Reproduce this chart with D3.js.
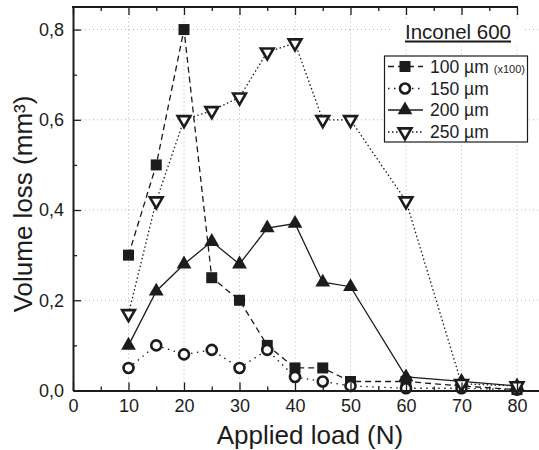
<!DOCTYPE html>
<html>
<head>
<meta charset="utf-8">
<script src="https://cdn.jsdelivr.net/npm/d3@7"></script>
<style>
  body { margin: 0; background: #fff; }
  svg { display: block; font-family: "Liberation Sans", Arial, sans-serif; }
</style>
</head>
<body>
<svg id="chart" width="539" height="450"></svg>
<script>
// data
const loads = [10, 15, 20, 25, 30, 35, 40, 45, 50, 60, 70, 80];
const s100 = [0.30, 0.50, 0.80, 0.25, 0.20, 0.10, 0.05, 0.05, 0.02, 0.02, 0.01, 0.002];
const s150 = [0.05, 0.10, 0.08, 0.09, 0.05, 0.09, 0.03, 0.02, 0.01, 0.005, 0.005, 0.002];
const s200 = [0.10, 0.22, 0.28, 0.33, 0.28, 0.36, 0.37, 0.24, 0.23, 0.03, 0.02, 0.01];
const s250 = [0.17, 0.42, 0.60, 0.62, 0.65, 0.75, 0.77, 0.60, 0.60, 0.42, 0.015, 0.01];
const seriesNames = ["100 µm", "150 µm", "200 µm", "250 µm"];
const xTicks = [0, 10, 20, 30, 40, 50, 60, 70, 80];
const xMinor = [5, 15, 25, 35, 45, 55, 65, 75];
const yTicks = [0, 0.2, 0.4, 0.6, 0.8];
const yMinor = [0.1, 0.3, 0.5, 0.7];

const ink = "#1c1c1c";
const svg = d3.select("#chart");

const x = d3.scaleLinear().domain([0, 84]).range([73, 539.2]);
const y = d3.scaleLinear().domain([0, 0.85]).range([390.5, 7]);
const fmt = d => d3.format(".1f")(d).replace(".", ",");

// grid
const grid = svg.append("g").attr("stroke", "#b5b5b5").attr("stroke-dasharray", "1,3");
grid.selectAll(".gx").data(xTicks.slice(1)).join("line")
  .attr("x1", d => x(d)).attr("x2", d => x(d))
  .attr("y1", y(0)).attr("y2", y(0.85));
grid.selectAll(".gy").data(yTicks.slice(1)).join("line")
  .attr("x1", x(0)).attr("x2", 539)
  .attr("y1", d => y(d)).attr("y2", d => y(d));

// series
const series = [
  { name: seriesNames[0], vals: s100, dash: "6,4", mark: "square" },
  { name: seriesNames[1], vals: s150, dash: "1.5,4.5", mark: "circle" },
  { name: seriesNames[2], vals: s200, dash: null, mark: "up" },
  { name: seriesNames[3], vals: s250, dash: "1.5,2.5", mark: "down" }
];

const line = d3.line().x(d => x(d[0])).y(d => y(d[1]));

function drawMark(g, type) {
  if (type === "square") {
    g.append("rect").attr("x", -5.5).attr("y", -5.5).attr("width", 11).attr("height", 11).attr("fill", ink);
  } else if (type === "circle") {
    g.append("circle").attr("r", 5).attr("fill", "#fff").attr("stroke", ink).attr("stroke-width", 2.6);
  } else if (type === "up") {
    g.append("path").attr("d", d3.symbol(d3.symbolTriangle, 95)()).attr("fill", ink);
  } else {
    g.append("path").attr("d", d3.symbol(d3.symbolTriangle, 70)())
      .attr("transform", "rotate(180)")
      .attr("fill", "#fff").attr("stroke", ink).attr("stroke-width", 2.6);
  }
}

series.forEach(s => {
  const pts = loads.map((l, i) => [l, s.vals[i]]);
  svg.append("path").datum(pts)
    .attr("d", line).attr("fill", "none")
    .attr("stroke", ink).attr("stroke-width", 1.3)
    .attr("stroke-dasharray", s.dash);
});
series.forEach(s => {
  loads.forEach((l, i) => {
    const g = svg.append("g").attr("transform", `translate(${x(l)},${y(s.vals[i])})`);
    drawMark(g, s.mark);
  });
});

// axes
const xAxis = svg.append("g").attr("transform", `translate(0,${y(0)})`)
  .call(d3.axisBottom(x).tickValues(xTicks).tickSize(-8).tickSizeOuter(0).tickPadding(9).tickFormat(d3.format("d")));
xAxis.select(".domain").attr("stroke-width", 2).attr("stroke", ink);
xAxis.selectAll("text").attr("font-size", 18).attr("fill", ink).attr("font-family", null);
xAxis.selectAll(".tick line").attr("stroke", ink).attr("stroke-width", 1.3);

svg.append("g").attr("transform", `translate(0,${y(0)})`)
  .call(d3.axisBottom(x).tickValues(xMinor).tickSize(-4).tickFormat(""))
  .call(g => g.select(".domain").remove())
  .selectAll("line").attr("stroke", ink).attr("stroke-width", 1.3);

const yAxis = svg.append("g").attr("transform", `translate(${x(0)},0)`)
  .call(d3.axisLeft(y).tickValues(yTicks).tickSize(-8).tickSizeOuter(0).tickPadding(9).tickFormat(fmt));
yAxis.select(".domain").attr("stroke-width", 2).attr("stroke", ink);
yAxis.selectAll("text").attr("font-size", 18).attr("fill", ink).attr("font-family", null);
yAxis.selectAll(".tick line").attr("stroke", ink).attr("stroke-width", 1.3);

svg.append("g").attr("transform", `translate(${x(0)},0)`)
  .call(d3.axisLeft(y).tickValues(yMinor).tickSize(-4).tickFormat(""))
  .call(g => g.select(".domain").remove())
  .selectAll("line").attr("stroke", ink).attr("stroke-width", 1.3);

// top frame
const topAxis = svg.append("g").attr("transform", `translate(0,${y(0.85)})`);
topAxis.call(d3.axisTop(x).tickValues(xTicks).tickSize(-8).tickFormat(""))
  .call(g => g.select(".domain").remove());
topAxis.append("g").call(d3.axisTop(x).tickValues(xMinor).tickSize(-4).tickFormat(""))
  .call(g => g.select(".domain").remove());
topAxis.selectAll("line").attr("stroke", ink).attr("stroke-width", 1.3);
topAxis.append("line").attr("x1", x(0) - 1).attr("x2", x(80) + 1)
  .attr("stroke", ink).attr("stroke-width", 2);

// axis titles
svg.append("text").attr("x", 310).attr("y", 444).attr("text-anchor", "middle")
  .attr("font-size", 26).attr("fill", ink).text("Applied load (N)");
svg.append("text").attr("transform", "translate(32,204) rotate(-90)").attr("text-anchor", "middle")
  .attr("font-size", 26).attr("fill", ink).text("Volume loss (mm³)");

// legend
svg.append("rect").attr("x", 392).attr("y", 19).attr("width", 130).attr("height", 27).attr("fill", "#fff");
svg.append("text").attr("x", 458).attr("y", 38.5).attr("text-anchor", "middle")
  .attr("font-size", 20.5).attr("fill", ink).attr("text-decoration", "underline").text("Inconel 600");

const leg = svg.append("g");
leg.append("rect").attr("x", 384.5).attr("y", 56).attr("width", 143).attr("height", 86)
  .attr("fill", "#fff").attr("stroke", ink).attr("stroke-width", 1.2);
const rowY = [66.5, 88.5, 110, 132];
series.forEach((s, i) => {
  const g = leg.append("g").attr("transform", `translate(0,${rowY[i]})`);
  g.append("line").attr("x1", 388).attr("x2", 423)
    .attr("stroke", ink).attr("stroke-width", 1.3).attr("stroke-dasharray", s.dash);
  const m = g.append("g").attr("transform", "translate(405,0)");
  drawMark(m, s.mark);
  const t = g.append("text").attr("x", 430).attr("y", 6.3).attr("font-size", 17.5).attr("fill", ink).text(s.name);
  if (i === 0) t.append("tspan").attr("dx", 5).attr("font-size", 11).text("(x100)");
});
</script>
</body>
</html>
